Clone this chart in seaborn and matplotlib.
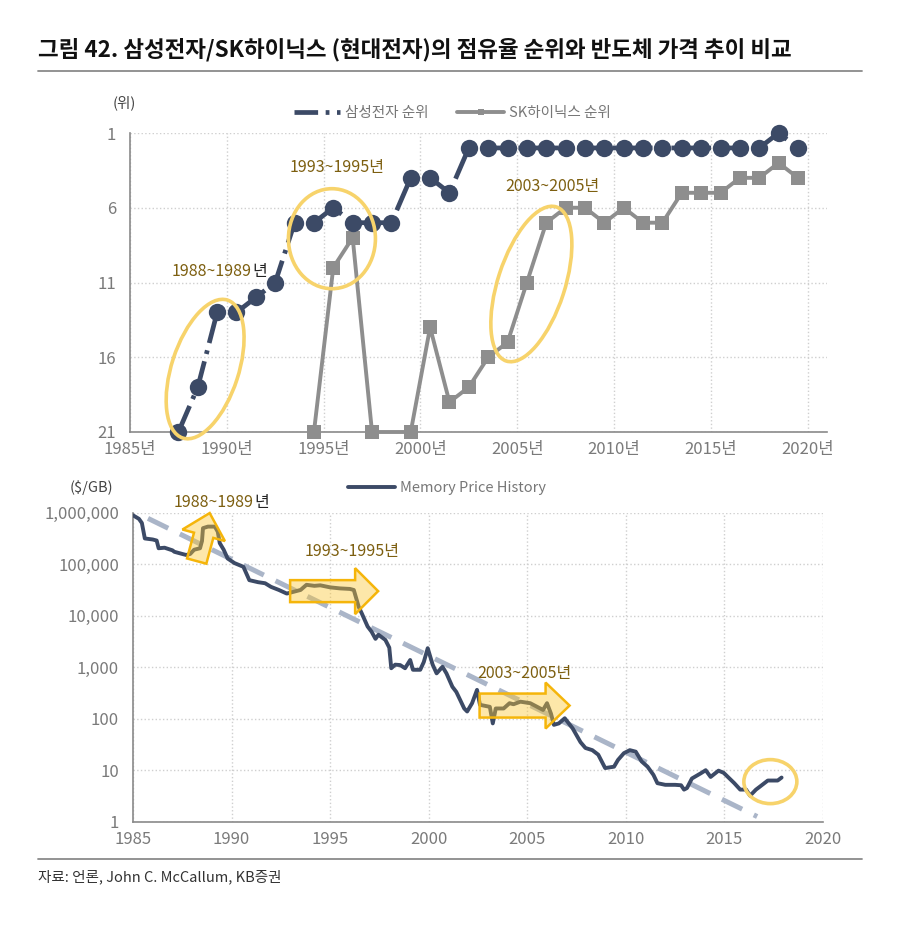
import matplotlib
matplotlib.use("Agg")
import matplotlib.pyplot as plt
import matplotlib.patches as mpatches
import matplotlib.transforms as mtransforms
from matplotlib.lines import Line2D
from matplotlib.ticker import FuncFormatter
import seaborn as sns
import numpy as np

sns.set_style("white")
plt.rcParams['font.family'] = ['Noto Sans CJK KR', 'DejaVu Sans']

# ---- data: market share rank ----
years = list(range(1987, 2020))
samsung_rank = [21, 18, 13, 13, 12, 11, 7, 7, 6, 7, 7, 7, 4, 4, 5,
                2, 2, 2, 2, 2, 2, 2, 2, 2, 2, 2, 2, 2, 2, 2, 2, 1, 2]
sk_years = [1994, 1995, 1996, 1997, 1999, 2000, 2001, 2002, 2003, 2004, 2005,
            2006, 2007, 2008, 2009, 2010, 2011, 2012, 2013, 2014, 2015, 2016,
            2017, 2018, 2019]
sk_rank = [21, 10, 8, 21, 21, 14, 19, 18, 16, 15, 11,
           7, 6, 6, 7, 6, 7, 7, 5, 5, 5, 4, 4, 3, 4]
rank_ticks = [1, 6, 11, 16, 21]
year_labels = ['1985년', '1990년', '1995년', '2000년', '2005년', '2010년', '2015년', '2020년']

# ---- data: memory price history ($/GB) ----
price_years = [1985.0, 1985.3, 1985.45, 1985.6, 1986.0, 1986.2, 1986.3, 1986.6, 1987.0, 1987.1,
               1987.5, 1987.7, 1987.9, 1988.1, 1988.4, 1988.5, 1988.55, 1988.8, 1989.15, 1989.3,
               1989.4, 1989.6, 1989.8, 1990.15, 1990.6, 1990.9, 1991.35, 1991.7, 1992.0, 1992.4,
               1992.8, 1993.2, 1993.5, 1993.8, 1994.2, 1994.5, 1995.0, 1995.5, 1996.0, 1996.2,
               1996.45, 1996.6, 1996.9, 1997.1, 1997.3, 1997.45, 1997.8, 1998.0, 1998.1, 1998.3,
               1998.55, 1998.8, 1999.06, 1999.2, 1999.57, 1999.75, 1999.95, 2000.2, 2000.4, 2000.7,
               2000.9, 2001.2, 2001.4, 2001.6, 2001.8, 2001.95, 2002.2, 2002.45, 2002.6, 2003.1,
               2003.25, 2003.4, 2003.8, 2004.1, 2004.3, 2004.65, 2005.15, 2005.5, 2005.8, 2006.0,
               2006.2, 2006.35, 2006.6, 2006.9, 2007.3, 2007.7, 2007.95, 2008.3, 2008.6, 2008.95,
               2009.4, 2009.6, 2009.9, 2010.2, 2010.5, 2010.8, 2011.1, 2011.4, 2011.6, 2012.0,
               2012.5, 2012.8, 2012.95, 2013.1, 2013.35, 2013.8, 2014.05, 2014.3, 2014.7, 2014.96,
               2015.5, 2015.8, 2016.1, 2016.3, 2016.6, 2016.8, 2017.2, 2017.7, 2017.9]
price_usd = [890000, 760000, 631000, 316000, 302000, 288000, 204000, 209000, 186000, 174000,
             158000, 151000, 158000, 191000, 204000, 282000, 501000, 537000, 537000, 427000,
             257000, 191000, 129000, 105000, 89000, 49000, 44700, 42700, 36300, 31600,
             26900, 29500, 31600, 39800, 38000, 38900, 35500, 33900, 33100, 31600,
             14800, 11200, 6170, 4900, 3550, 4270, 3390, 2400, 955, 1120,
             1100, 955, 1380, 891, 891, 1260, 2340, 1120, 759, 1020,
             759, 417, 331, 229, 158, 138, 200, 363, 186, 170,
             81, 158, 158, 200, 191, 214, 200, 170, 148, 200,
             126, 76, 81, 102, 65, 35, 27, 24.5, 20, 11,
             11.7, 15.8, 21.4, 24.5, 22.9, 14.8, 11.7, 8.1, 5.6, 5.2,
             5.2, 5.1, 4.2, 4.5, 6.9, 8.7, 10, 7.4, 9.8, 8.9,
             5.6, 4.2, 4.2, 3.2, 4.2, 4.8, 6.3, 6.3, 7.2]
trend_years = [1985.76, 2016.66]
trend_usd = [776000, 1.26]

navy = '#3c4a66'
gray = '#8e8e8e'
yellow = '#f7d36b'
gold = '#7d5f10'
tick_gray = '#7a7a7a'

fig = plt.figure(figsize=(9, 9.31), dpi=100)


def px_trans(ax, x, y):
    return fig.dpi_scale_trans + mtransforms.ScaledTranslation(x, y, ax.transData)


def ring(ax, x, y, w, h, angle=0):
    e = mpatches.Ellipse((0, 0), w / 100, h / 100, angle=angle, fill=False,
                         ec=yellow, lw=2.6, transform=px_trans(ax, x, y),
                         clip_on=False, zorder=5)
    ax.add_patch(e)


def arrow(ax, x, y, dx, dy, width, head_w, head_l):
    a = mpatches.FancyArrow(0, 0, dx / 100, dy / 100, width=width / 100,
                            head_width=head_w / 100, head_length=head_l / 100,
                            length_includes_head=True, fc=(0.99, 0.78, 0.2, 0.42),
                            ec='#f5b50a', lw=1.8, transform=px_trans(ax, x, y),
                            clip_on=False, zorder=5)
    ax.add_patch(a)


def period_label(ax, x, y, text, dark_suffix=False):
    if dark_suffix:
        ax.annotate(text[:-1], (x, y), xytext=(22.5, 0), textcoords='offset points',
                    ha='right', va='center', color=gold, fontsize=11.5, zorder=6,
                    annotation_clip=False)
        ax.annotate(text[-1], (x, y), xytext=(23.5, 0), textcoords='offset points',
                    ha='left', va='center', color='#222222', fontsize=11.5, zorder=6,
                    annotation_clip=False)
    else:
        ax.text(x, y, text, ha='center', va='center', color=gold, fontsize=11.5, zorder=6)


def style_axes(ax):
    sns.despine(ax=ax)
    for s in ['left', 'bottom']:
        ax.spines[s].set_color('#8a8a8a')
        ax.spines[s].set_linewidth(1.2)
    ax.grid(True, which='major', linestyle=':', color='#cfcfcf', linewidth=1)
    ax.tick_params(axis='both', colors='#8a8a8a', labelcolor=tick_gray, labelsize=12,
                   length=4, width=1)
    ax.tick_params(axis='y', pad=6)
    ax.tick_params(axis='x', direction='inout', length=6)


# ---- title ----
fig.text(38 / 900, 1 - 50 / 931, '그림 42. 삼성전자/SK하이닉스 (현대전자)의 점유율 순위와 반도체 가격 추이 비교',
         fontsize=16.2, fontweight='bold', va='center', ha='left', color='#111111')
fig.add_artist(Line2D([38 / 900, 862 / 900], [1 - 71 / 931] * 2, color='#8a8a8a', lw=1.3))
fig.add_artist(Line2D([38 / 900, 862 / 900], [1 - 859 / 931] * 2, color='#8a8a8a', lw=1.3))
fig.text(38 / 900, 1 - 877 / 931, '자료: 언론, John C. McCallum, KB증권',
         fontsize=10.5, va='center', ha='left', color='#333333')

# ---- top chart: rank ----
ax1 = fig.add_axes([130 / 900, 1 - 432 / 931, (827 - 130) / 900, (432 - 133) / 931])
sns.lineplot(x=years, y=samsung_rank, ax=ax1, color=navy, linewidth=3.4,
             linestyle=(0, (6, 1.6, 0.8, 1.6)), marker='o', markersize=12.5,
             markeredgewidth=0, clip_on=False, zorder=4)
sns.lineplot(x=sk_years, y=sk_rank, ax=ax1, color=gray, linewidth=2.8,
             marker='s', markersize=10.5, markeredgewidth=0, clip_on=False, zorder=3)
ax1.set_xlim(1984.5, 2020.5)
ax1.set_ylim(21, 1)
ax1.set_xticks(np.arange(1984.5, 2020, 5))
ax1.set_xticklabels(year_labels)
ax1.set_yticks(rank_ticks)
ax1.set_xlabel('')
ax1.set_ylabel('')
style_axes(ax1)
fig.text(124 / 900, 1 - 103 / 931, '(위)', fontsize=10.5, ha='center', va='center', color='#444444')

h_sam = Line2D([], [], color=navy, lw=3.4, linestyle=(0, (5, 1.6, 0.8, 1.6)))
h_sk = Line2D([], [], color=gray, lw=2.8, marker='s', markersize=4.5, markeredgewidth=0)
fig.legend([h_sam, h_sk], ['삼성전자 순위', 'SK하이닉스 순위'], loc='center',
           bbox_to_anchor=(452 / 900, 1 - 113 / 931), ncol=2, frameon=False,
           fontsize=10.5, labelcolor='#777777', handlelength=3.2, handletextpad=0.3,
           columnspacing=2.0)

ring(ax1, 1988.38, 16.79, 145, 67, 72)
ring(ax1, 1994.93, 8.07, 87, 100, 0)
ring(ax1, 2005.23, 11.1, 162, 67, 72)
period_label(ax1, 1989.15, 10.28, '1988~1989년', dark_suffix=True)
period_label(ax1, 1995.2, 3.34, '1993~1995년')
period_label(ax1, 2006.3, 4.59, '2003~2005년')

# ---- bottom chart: memory price ----
ax2 = fig.add_axes([133 / 900, 1 - 821.7 / 931, (823 - 133) / 900, (821.7 - 512.7) / 931])
sns.lineplot(x=trend_years, y=trend_usd, ax=ax2, color='#aab5c8', linewidth=3.6,
             linestyle=(0, (4.5, 2.6)), zorder=3)
sns.lineplot(x=price_years, y=price_usd, ax=ax2, color=navy, linewidth=2.8,
             zorder=4, estimator=None, sort=False)
ax2.set_yscale('log')
ax2.set_ylim(1, 1e6)
ax2.set_xlim(1985, 2020)
ax2.set_xticks(range(1985, 2021, 5))
ax2.set_yticks([1, 10, 100, 1e3, 1e4, 1e5, 1e6])
ax2.yaxis.set_major_formatter(FuncFormatter(lambda v, p: f'{int(round(v)):,}'))
ax2.minorticks_off()
ax2.set_xlabel('')
ax2.set_ylabel('')
style_axes(ax2)
fig.text(91 / 900, 1 - 488 / 931, '($/GB)', fontsize=10.5, ha='center', va='center', color='#444444')
h_mem = Line2D([], [], color=navy, lw=2.8)
fig.legend([h_mem], ['Memory Price History'], loc='center',
           bbox_to_anchor=(447 / 900, 1 - 488 / 931), frameon=False, fontsize=10.5,
           labelcolor='#777777', handlelength=3.2, handletextpad=0.3)

arrow(ax2, 1988.23, 1.15e5, 13, 48, 20, 44, 23)
arrow(ax2, 1992.97, 3.0e4, 88, 0, 22, 46, 23)
arrow(ax2, 2002.58, 180, 90, 0, 24, 46, 24)
ring(ax2, 2017.33, 6.0, 53, 44, 0)
period_label(ax2, 1989.52, 1.55e6, '1988~1989년', dark_suffix=True)
period_label(ax2, 1996.12, 1.74e5, '1993~1995년')
period_label(ax2, 2004.85, 771, '2003~2005년')

fig.savefig('out.png', dpi=100)
